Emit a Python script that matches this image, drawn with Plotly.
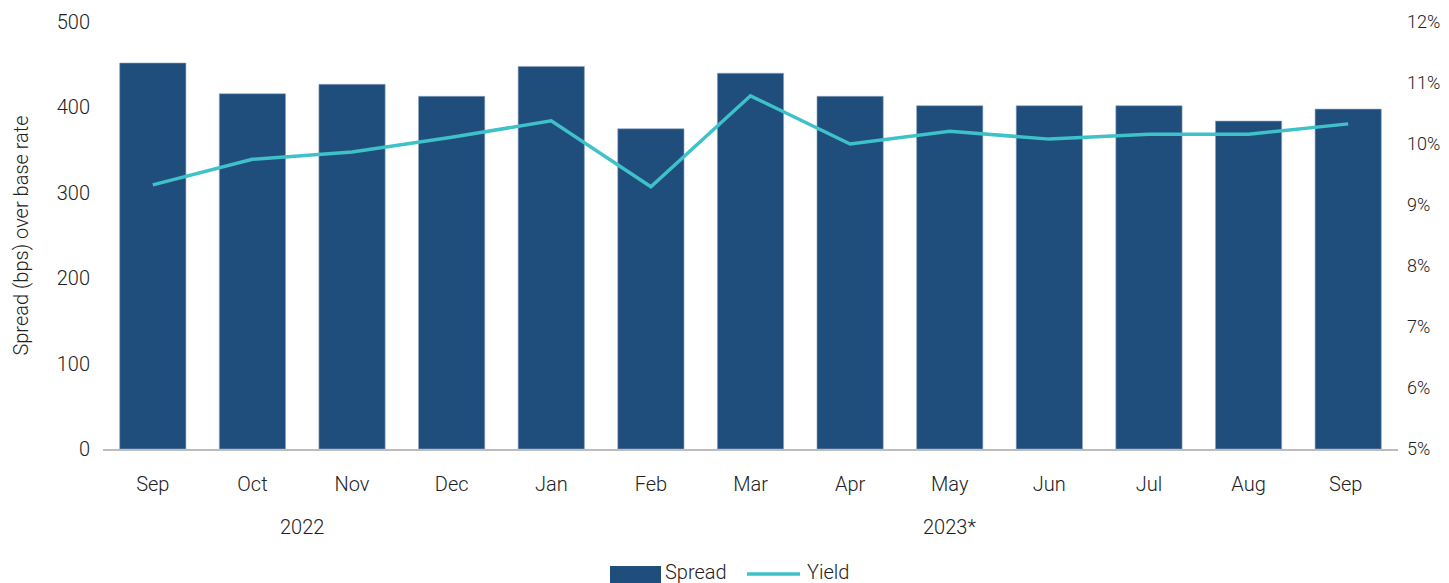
import plotly.graph_objects as go

months = ["Sep", "Oct", "Nov", "Dec", "Jan", "Feb", "Mar", "Apr", "May", "Jun", "Jul", "Aug", "Sep "]
spread = [452, 416, 427, 413, 448, 375, 440, 413, 402, 402, 402, 384, 398]
yield_pct = [9.33, 9.75, 9.87, 10.11, 10.38, 9.30, 10.79, 10.00, 10.21, 10.08, 10.16, 10.16, 10.33]
years = ["2022", "2023*"]
year_pos = [1.5, 8.0]

FONT = "Roboto, Open Sans, sans-serif"
BAR = "#1F4E7D"
LINE = "#3EC1C8"
TXT = "#222222"


def f(size=20):
    return dict(family=FONT, size=size, color=TXT, weight=300)


fig = go.Figure()
fig.add_trace(go.Bar(x=months, y=spread, name="Spread", marker=dict(color=BAR, line=dict(color="#8fa6bf", width=0.6)),
                     yaxis="y"))
fig.add_trace(go.Scatter(x=months, y=yield_pct, name="Yield", mode="lines",
                         line=dict(color=LINE, width=3.5), yaxis="y2"))

# page body has an 8px margin, so the figure is offset by (8, 8)
fig.update_layout(
    width=1441, height=575,
    margin=dict(l=95, r=51, t=14, b=134),
    paper_bgcolor="white", plot_bgcolor="white",
    showlegend=False,
    bargap=0.335,
    font=f(),
    xaxis=dict(type="category", showgrid=False, showline=True, linecolor="#bdbdbd", linewidth=1.5,
               ticks="", ticklabelstandoff=16, tickfont=f(), automargin=False),
    yaxis=dict(range=[0, 500], dtick=100, showgrid=False, zeroline=False, ticks="",
               ticklabelstandoff=12, tickfont=f(), automargin=False,
               title=dict(text="Spread (bps) over base rate", font=f(), standoff=22)),
    yaxis2=dict(range=[5, 12], dtick=1, overlaying="y", side="right", showgrid=False, zeroline=False,
                ticks="", ticksuffix="%", ticklabelstandoff=8, tickfont=f(18), automargin=False),
)

for yr, xp in zip(years, year_pos):
    fig.add_annotation(x=xp, y=-0.183, xref="x", yref="paper", text=yr, showarrow=False,
                       xanchor="center", yanchor="middle", font=f())

# custom legend
fig.add_shape(type="rect", xref="paper", yref="paper", x0=0.3915, x1=0.4309, y0=-0.274, y1=-0.34,
              fillcolor=BAR, line=dict(width=0))
fig.add_annotation(x=0.4324, y=-0.287, xref="paper", yref="paper", text="Spread", showarrow=False,
                   xanchor="left", yanchor="middle", font=f())
fig.add_shape(type="line", xref="paper", yref="paper", x0=0.4973, x1=0.5382, y0=-0.2927, y1=-0.2927,
              line=dict(color=LINE, width=3.5))
fig.add_annotation(x=0.5421, y=-0.287, xref="paper", yref="paper", text="Yield", showarrow=False,
                   xanchor="left", yanchor="middle", font=f())

fig.write_html("out.html")
